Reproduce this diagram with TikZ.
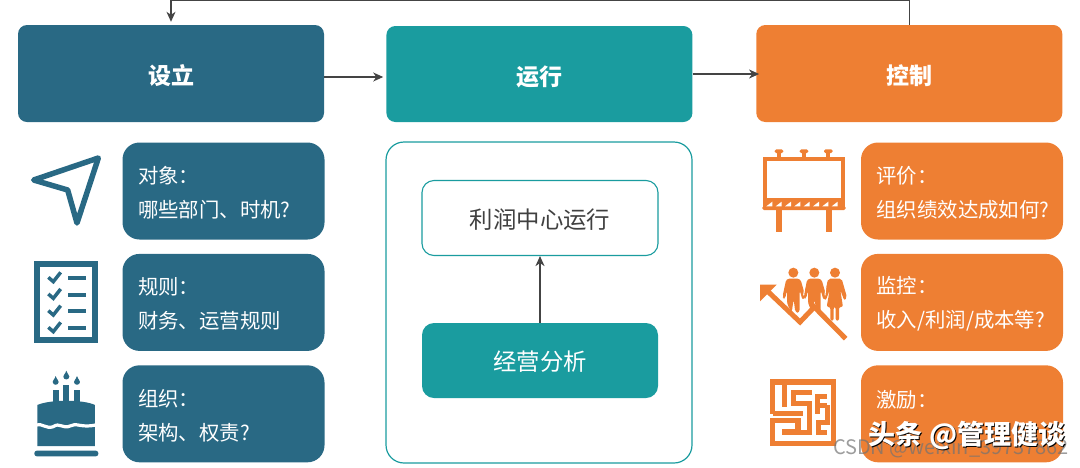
\documentclass[tikz,border=0pt]{standalone}
\usepackage{fontspec}
\setmainfont{Noto Sans CJK SC}
\usepackage{tikz}
\usetikzlibrary{arrows.meta, positioning}
\definecolor{navy}{HTML}{296984}
\definecolor{teal2}{HTML}{1A9C9F}
\definecolor{orange2}{HTML}{EE7F33}
\definecolor{flowgray}{HTML}{444444}
\tikzstyle{header} = [rectangle, rounded corners=9pt, minimum width=306pt, minimum height=97pt, inner sep=0pt, text=white, text height=22pt, text depth=0pt, font=\fontsize{23}{28}\selectfont\bfseries]
\tikzstyle{detail} = [rectangle, rounded corners=17pt, minimum height=97pt, text width=171pt, inner xsep=15.5pt, inner ysep=0pt, align=left, text=white, font=\fontsize{20.4}{34}\selectfont, execute at begin node=\rule{0pt}{20.5pt}]
\tikzstyle{inner} = [rectangle, rounded corners=12pt, minimum width=236pt, minimum height=75pt, inner sep=0pt, text height=20pt, text depth=0pt, font=\fontsize{23.4}{28}\selectfont]
\tikzstyle{arrow} = [line width=1.2pt, draw=flowgray, -{Stealth[length=10pt, width=9pt, inset=3pt]}]
\begin{document}
\begin{tikzpicture}[x=1pt, y=-1pt]
\useasboundingbox (0,0) rectangle (1080,467);

% Three columns
\node (setup) [header, fill=navy] at (171,73.5) {设立};
\node (run) [header, fill=teal2, minimum height=96pt, right=62pt of setup, yshift=-0.5pt] {运行};
\node (ctrl) [header, fill=orange2, right=63.5pt of run, yshift=0.5pt] {控制};

% Left column
\node (target) [detail, fill=navy] at (223.5,191) {对象：\\哪些部门、时机?};
\node (rules) [detail, fill=navy, below=14pt of target] {规则：\\财务、运营规则};
\node (org) [detail, fill=navy, below=14pt of rules] {组织：\\架构、权责?};

% Middle panel
\node (panel) [rectangle, rounded corners=18pt, draw=teal2, line width=1.2pt, fill=white, minimum width=306pt, minimum height=321pt, inner sep=0pt] at (539,302.5) {};
\node (profit) [inner, draw=teal2, line width=1.1pt, fill=white, text=black!75] at (540,218) {利润中心运行};
\node (ops) [inner, fill=teal2, text=white] at (540,360.5) {经营分析};

% Right column
\node (review) [detail, fill=orange2] at (962,191) {评价：\\组织绩效达成如何?};
\node (watch) [detail, fill=orange2, below=14pt of review] {监控：\\收入/利润/成本等?};
\node (reward) [detail, fill=orange2, below=14pt of watch] {激励：\\~};

% Connectors
\draw [arrow, shorten >=3pt] ([yshift=-3.5pt]setup.east) -- ([yshift=-3pt]run.west);
\draw [arrow, shorten >=-3pt] (run.east) -- (run.east -| ctrl.west);
\draw [arrow, shorten >=3pt] (ctrl.north) -- ++(0,-24) -| (setup.north);
\draw [arrow, shorten >=0pt] (ops.north) -- (profit.south);

% Plane icon
\begin{scope}[shift={(0,130)}, scale=1/3]
\draw [navy, line width=5.5pt, line join=round] (101,150) -- (295,84) -- (231,279) -- (203,180) -- cycle;
\end{scope}

% Checklist icon
\begin{scope}[shift={(0,130)}, scale=1/3]
\draw [navy, line width=6pt] (112,401) rectangle (286,631);
\foreach \y in {0,50,100,150} {
  \draw [navy, line width=4pt] (205,444+\y) -- (258,444+\y);
  \draw [navy, line width=3.5pt] (145,442+\y) -- (160,455+\y) -- (182,427+\y);
}
\end{scope}

% Cake icon
\begin{scope}[shift={(0,130)}, scale=1/3]
\fill [navy, rounded corners=2.5pt] (103,962) rectangle (295,979);
\fill [navy] (112,948) -- (112,825) .. controls (150,808) and (250,808) .. (285,825) -- (285,948) -- cycle;
\draw [white, line width=3.2pt] (108,885) .. controls (125,878) and (138,898) .. (160,890) .. controls (178,876) and (190,898) .. (210,888) .. controls (228,876) and (245,896) .. (290,884);
\foreach \x/\t in {158/780,190/765,222/780} {
  \fill [navy] (\x,\t) rectangle (\x+18,815);
}
\foreach \x/\t in {167/738,199/722,231/738} {
  \fill [navy] (\x,\t) .. controls (\x+4,\t+12) and (\x+10,\t+14) .. (\x+9,\t+18) .. controls (\x+8,\t+29) and (\x-8,\t+29) .. (\x-9,\t+18) .. controls (\x-10,\t+14) and (\x-4,\t+12) .. (\x,\t) -- cycle;
}
\end{scope}

% Billboard icon
\begin{scope}[shift={(755,145)}, scale=1/3]
\draw [orange2, line width=4pt] (30,42) rectangle (264,164);
\fill [orange2] (24,164) rectangle (270,185);
\fill [orange2, rounded corners=1.5pt] (22,183) rectangle (272,195);
\foreach \x in {72,147,220} {
  \fill [orange2] (\x-6,20) rectangle (\x+6,38);
  \fill [orange2, rounded corners=1.5pt] (\x-13,13) rectangle (\x+13,24);
}
\foreach \x in {38,66,94,122,150,178,206,234} {
  \fill [white] (\x-4,184) -- (\x+14,184) -- (\x+14,170) -- cycle;
}
\fill [orange2] (63,195) rectangle (80,262);
\fill [orange2] (212,195) rectangle (230,262);
\end{scope}

% Growth icon
\begin{scope}[shift={(755,262)}, scale=1/3]
\foreach \x in {115,178,240} {
  \fill [orange2] (\x,32) circle (15);
}
\foreach \x in {115,178} {
  \fill [orange2, rounded corners=3pt] (\x-21,50) -- (\x+21,50) -- (\x+36,102) -- (\x+28,116) -- (\x+19,84) -- (\x+19,152) -- (\x+6,152) -- (\x+1,112) -- (\x-5,152) -- (\x-19,125) -- (\x-19,84) -- (\x-25,112) -- (\x-33,106) -- cycle;
}
\fill [orange2, rounded corners=2pt] (220,50) -- (260,50) -- (276,106) -- (268,116) -- (256,84) -- (264,135) -- (252,135) -- (252,176) -- (242,176) -- (242,135) -- (236,135) -- (236,176) -- (226,176) -- (226,135) -- (215,135) -- (224,84) -- (212,116) -- (204,106) -- cycle;
\draw [white, line width=1pt] (146,100) -- (151,60);
\draw [white, line width=1pt] (210,100) -- (214,60);
\draw [white, line width=4pt] (272,236) -- (178,141) -- (135,186) -- (60,112);
\draw [orange2, line width=5pt] (272,230) -- (178,135) -- (135,180) -- (35,85);
\fill [orange2] (15,68) -- (65,68) -- (15,118) -- cycle;
\end{scope}

% Maze icon
\begin{scope}[shift={(762,372)}, scale=1/3]
\draw [orange2, line width=5.5pt] (32,125) -- (32,30) -- (214,30) -- (214,214) -- (32,214) -- (32,145) -- (108,145) -- (108,180) -- (60,180);
\draw [orange2, line width=5.5pt] (32,125) -- (122,125);
\draw [orange2, line width=5pt] (68,30) -- (68,105);
\draw [orange2, line width=5pt] (150,62) -- (95,62) -- (95,95) -- (142,95) -- (142,180) -- (90,180);
\draw [orange2, line width=5pt] (195,72) -- (165,72) -- (165,100) -- (195,100);
\draw [orange2, line width=5pt] (195,100) -- (195,150) -- (170,150) -- (170,180) -- (195,180);
\draw [orange2, line width=5pt] (165,100) -- (165,125);
\end{scope}

% Marks printed over the picture
\node (csdn) [text=black!55, opacity=0.7, font=\fontsize{20}{24}\selectfont] at (951,448) {CSDN @weixin\_39737862};
\node (shade) [text=black, font=\fontsize{27}{32}\selectfont\bfseries] at (968,437) {头条 @管理健谈};
\node (brand) [text=white, font=\fontsize{27}{32}\selectfont\bfseries] at (967,436) {头条 @管理健谈};

\end{tikzpicture}
\end{document}
